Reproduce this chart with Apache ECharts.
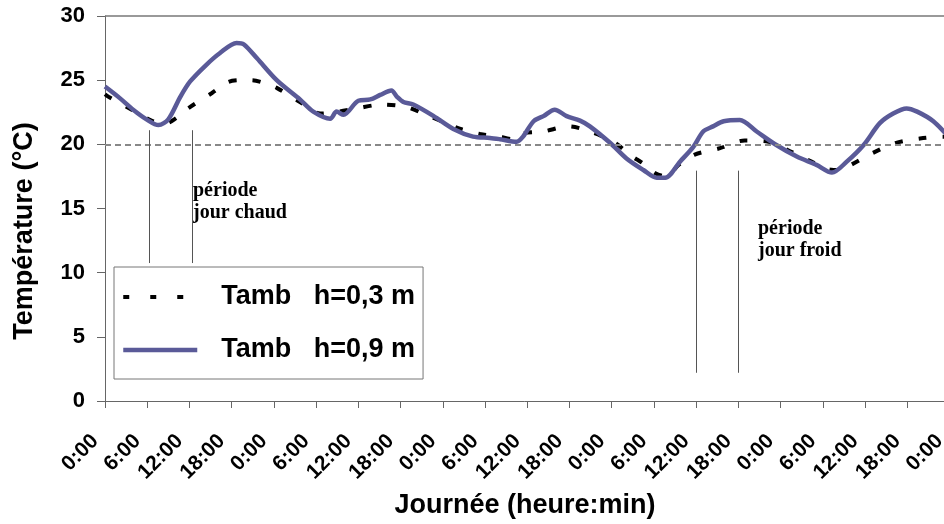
<!DOCTYPE html>
<html>
<head>
<meta charset="utf-8">
<script src="https://cdn.jsdelivr.net/npm/echarts@6/dist/echarts.min.js"></script>
<style>
  html, body { margin: 0; padding: 0; background: #fff; }
  #chart { width: 944px; height: 524px; }
</style>
</head>
<body>
<div id="chart"></div>
<script>
// Hours elapsed since the first midnight, and air temperature (°C) at two heights.
const hoursLow = [0, 0.5, 3.8, 6.6, 8.5, 10, 11.8, 15.2, 17.5, 19.5, 20.8, 22.5, 24.4, 27.7, 30.6, 33.2,
  35.8, 39.3, 42.9, 45.6, 48.3, 50.5, 53.3, 55.7, 58, 59.4, 62.3, 65.8, 69.4, 72.5, 74.8, 76.5,
  78.2, 79.8, 81.5, 83.8, 87.4, 90.9, 94.3, 97.6, 100.4, 103, 104.5, 106, 109, 112.3, 115.8, 119.2, 120];
const tempLow = [23.9, 23.7, 22.7, 21.85, 21.6, 22.0, 22.8, 24.0, 24.85, 25.0, 25.0, 24.8, 24.4, 23.3, 22.4, 22.55,
  22.8, 23.1, 22.9, 22.3, 21.7, 21.2, 20.8, 20.65, 20.4, 20.85, 21.0, 21.4, 20.9, 20.1, 19.1, 18.5,
  17.75, 17.5, 18.4, 19.2, 19.7, 20.3, 20.2, 19.4, 18.65, 18.05, 18.0, 18.4, 19.3, 20.1, 20.45, 20.6, 20.6];

const hoursHigh = [0, 2.1, 4, 5.9, 7.6, 9, 10.7, 12.1, 14.4, 16.3, 18.7, 19.7, 21.6, 24.4, 27.7, 29.6,
  32, 32.9, 33.9, 36, 37.7, 39.1, 40.7, 41.5, 42.4, 43.8, 46.7, 49.5, 52.3, 54.7, 56.1, 58.5,
  59.4, 60.9, 62.3, 63.9, 65.6, 67.5, 68.9, 71.8, 74.1, 76.5, 78.4, 79.6, 81.7, 83.6, 85.0, 86.4,
  87.9, 90.2, 92.6, 95.4, 98.3, 101.1, 103.3, 105.4, 107.8, 110.1, 112, 113.9, 115.4, 117.7, 120];
const tempHigh = [24.5, 23.6, 22.7, 21.95, 21.5, 21.95, 23.7, 24.9, 26.2, 27.1, 27.9, 27.8, 26.7, 25.0, 23.5, 22.55,
  22.0, 22.55, 22.3, 23.4, 23.5, 23.85, 24.2, 23.7, 23.3, 23.1, 22.2, 21.2, 20.6, 20.5, 20.4, 20.2,
  20.6, 21.8, 22.2, 22.7, 22.2, 21.85, 21.4, 20.1, 18.9, 18.0, 17.4, 17.4, 18.65, 19.8, 21.0, 21.4,
  21.8, 21.9, 21.0, 19.95, 19.05, 18.4, 17.8, 18.65, 19.95, 21.65, 22.4, 22.8, 22.55, 21.8, 20.5];

const tickLabels = ['0:00', '6:00', '12:00', '18:00', '0:00', '6:00', '12:00', '18:00', '0:00', '6:00', '12:00',
  '18:00', '0:00', '6:00', '12:00', '18:00', '0:00', '6:00', '12:00', '18:00', '0:00'];

const seriesNames = ['Tamb   h=0,3 m', 'Tamb   h=0,9 m'];

// Reference temperature and the bounds of the highlighted periods (hour, temp from, temp to).
const comfortTemp = 20;
const topTemp = 30;
const hotPeriod = [[6.25, 21.1, 10.75], [12.35, 21.1, 10.75]];
const coldPeriod = [[84, 17.95, 2.2], [90, 17.95, 2.2]];

const sans = 'Liberation Sans, Arial, sans-serif';
const serif = 'Liberation Serif, Times New Roman, serif';
const blue = '#5a5a98';

function pairs(xs, ys) { return xs.map((x, i) => [x, ys[i]]); }
function vLines(list) {
  return list.map(p => [{ coord: [p[0], p[1]] }, { coord: [p[0], p[2]] }]);
}

const chart = echarts.init(document.getElementById('chart'), null, { renderer: 'canvas' });

chart.setOption({
  animation: false,
  backgroundColor: '#fff',
  grid: { left: 105, top: 16, right: -5.5, bottom: 123, containLabel: false, outerBoundsMode: 'none' },
  xAxis: {
    type: 'value', min: 0, max: 120, interval: 6,
    axisLine: { lineStyle: { color: '#666', width: 1 } },
    axisTick: { show: true, length: 7, lineStyle: { color: '#666' } },
    splitLine: { show: false },
    axisLabel: {
      rotate: 45, margin: 27, interval: 0, padding: [0, 14, 0, 0],
      showMinLabel: true, showMaxLabel: true,
      fontFamily: sans, fontWeight: 'bold', fontSize: 21, color: '#000',
      formatter: v => tickLabels[Math.round(v / 6)]
    }
  },
  yAxis: {
    type: 'value', min: 0, max: 30, interval: 5,
    axisLine: { show: true, lineStyle: { color: '#666', width: 1 } },
    axisTick: { show: true, length: 8, lineStyle: { color: '#666' } },
    splitLine: { show: false },
    axisLabel: {
      margin: 20, fontFamily: sans, fontWeight: 'bold', fontSize: 22, color: '#000'
    }
  },
  legend: {
    orient: 'vertical', left: 114, top: 267,
    padding: [15, 8, 14, 7], itemGap: 23,
    itemWidth: 74, itemHeight: 14,
    borderColor: '#777', borderWidth: 1, backgroundColor: '#fff',
    textStyle: { fontFamily: sans, fontWeight: 'bold', fontSize: 27, color: '#000',
      lineHeight: 30, padding: [0, 0, 0, 19] },
    data: [
      { name: seriesNames[0], itemStyle: { opacity: 0 },
        lineStyle: { color: '#000', width: 4, type: [6, 21] } },
      { name: seriesNames[1], itemStyle: { opacity: 0 },
        lineStyle: { color: blue, width: 4.5, type: 'solid' } }
    ]
  },
  series: [
    {
      name: seriesNames[0], type: 'line', symbol: 'none', smooth: 0.3, z: 2,
      data: pairs(hoursLow, tempLow),
      lineStyle: { color: '#000', width: 4, type: [8, 16] },
      itemStyle: { color: '#000' },
      markLine: {
        silent: true, symbol: 'none', label: { show: false },
        data: [
          { yAxis: comfortTemp, lineStyle: { color: '#888', width: 2, type: [6, 4] } },
          { yAxis: topTemp, lineStyle: { color: '#777', width: 1.5, type: 'solid' } }
        ]
      }
    },
    {
      name: seriesNames[1], type: 'line', symbol: 'none', smooth: 0.3, z: 3,
      data: pairs(hoursHigh, tempHigh),
      lineStyle: { color: blue, width: 4.5 },
      itemStyle: { color: blue },
      markLine: {
        silent: true, symbol: 'none', label: { show: false },
        lineStyle: { color: '#555', width: 1, type: 'solid' },
        data: vLines(hotPeriod).concat(vLines(coldPeriod))
      }
    }
  ],
  graphic: [
    { type: 'text', x: 25, y: 231, rotation: Math.PI / 2,
      style: { text: 'Température (°C)', fontFamily: sans, fontWeight: 'bold', fontSize: 27,
        fill: '#000', textAlign: 'center', textVerticalAlign: 'middle' } },
    { type: 'text', x: 525, y: 506,
      style: { text: 'Journée (heure:min)', fontFamily: sans, fontWeight: 'bold', fontSize: 27,
        fill: '#000', textAlign: 'center', textVerticalAlign: 'middle' } },
    { type: 'text', x: 193, y: 180,
      style: { text: 'période\njour chaud', fontFamily: serif, fontWeight: 'bold', fontSize: 20,
        lineHeight: 22, fill: '#000', textAlign: 'left', textVerticalAlign: 'top' } },
    { type: 'text', x: 758, y: 218,
      style: { text: 'période\njour froid', fontFamily: serif, fontWeight: 'bold', fontSize: 20,
        lineHeight: 22, fill: '#000', textAlign: 'left', textVerticalAlign: 'top' } }
  ]
});
</script>
</body>
</html>
